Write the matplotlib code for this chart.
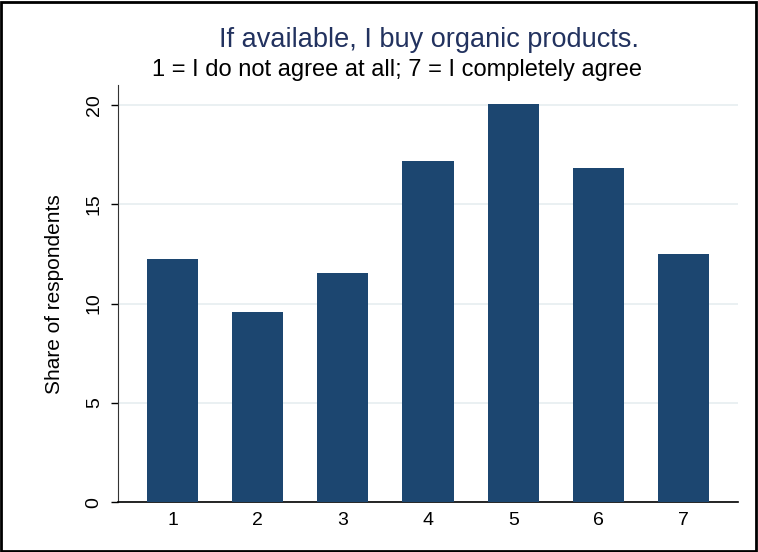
import matplotlib.pyplot as plt
from matplotlib.patches import Rectangle

plt.rcParams['font.family'] = ['Liberation Sans', 'DejaVu Sans']

# Response categories and share of respondents (%)
categories = [1, 2, 3, 4, 5, 6, 7]
shares = [12.22, 9.57, 11.53, 17.16, 20.06, 16.80, 12.47]
y_ticks = [0, 5, 10, 15, 20]

bar_color = '#1c4670'
title_color = '#22325f'

fig = plt.figure(figsize=(7.58, 5.52), dpi=100)
ax = fig.add_axes([0.1557, 0.0899, 0.818, 0.7563])

ax.bar(categories, shares, width=0.6, color=bar_color, zorder=3)

ax.set_xlim(0.36, 7.64)
ax.set_ylim(0, 21)
ax.set_xticks(categories)
ax.set_xticklabels([str(c) for c in categories], fontsize=14)
ax.set_yticks(y_ticks)
ax.set_yticklabels([str(t) for t in y_ticks], fontsize=14, rotation=90, va='center')
ax.tick_params(axis='x', length=0, pad=7)
ax.tick_params(axis='y', length=5, width=1, pad=6)

ax.grid(axis='y', color='#e6eef0', linewidth=1.2, zorder=0)
ax.spines['top'].set_visible(False)
ax.spines['right'].set_visible(False)
ax.spines['left'].set_color('#333333')
ax.spines['bottom'].set_color('black')
ax.spines['bottom'].set_linewidth(1.2)

ax.set_ylabel('Share of respondents', fontsize=15, labelpad=16)

fig.text(0.5666, 0.927, 'If available, I buy organic products.',
         fontsize=19.5, color=title_color, ha='center', va='center')
fig.text(0.5244, 0.873, '1 = I do not agree at all; 7 = I completely agree',
         fontsize=17, color='black', ha='center', va='center')

# outer frame around the whole graph
fig.patches.append(Rectangle((0.001, 0.002), 0.997, 0.995, transform=fig.transFigure,
                             fill=False, edgecolor='black', linewidth=2))

fig.savefig('out.png', dpi=100)
